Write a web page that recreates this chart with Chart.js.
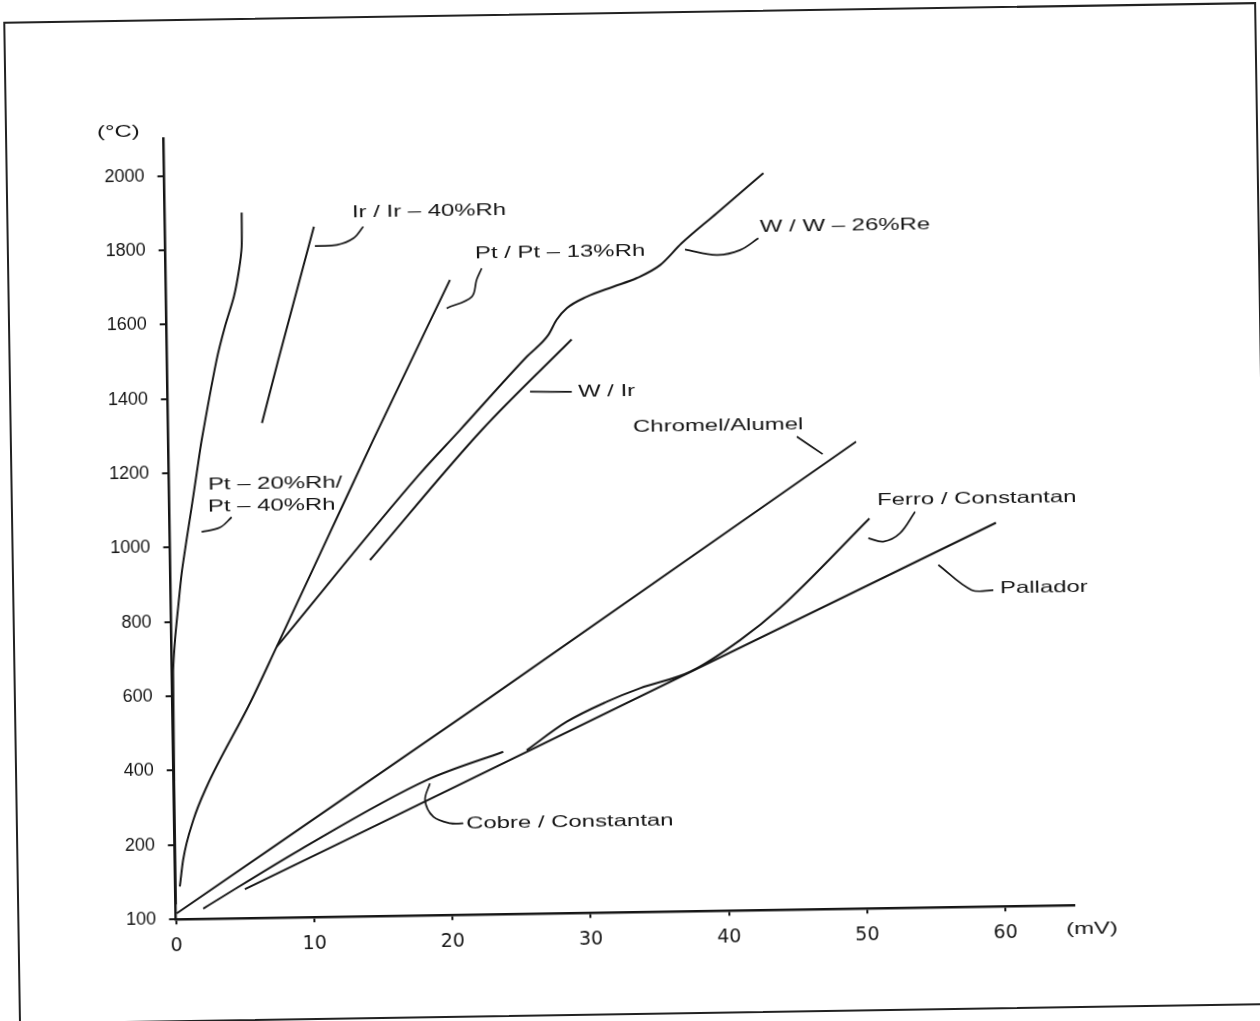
<!DOCTYPE html>
<html>
<head>
<meta charset="utf-8">
<script src="https://cdn.jsdelivr.net/npm/chart.js@4.4.1/dist/chart.umd.min.js"></script>
<style>
  html, body { margin: 0; padding: 0; background: #fff; overflow: hidden; }
  #page { position: relative; width: 1260px; height: 1021px; transform: rotate(-0.9deg); transform-origin: 630px 510px; }
  #frame { position: absolute; left: 11px; top: 12px; width: 1253px; height: 1003px; border: 2px solid #222; box-sizing: border-box; }
  canvas { position: absolute; left: 0; top: 0; }
</style>
</head>
<body>
<div id="page">
  <div id="frame"></div>
  <canvas id="chart" width="1260" height="1021"></canvas>
</div>
<script>
// axis ticks
const yTicks = [100, 200, 400, 600, 800, 1000, 1200, 1400, 1600, 1800, 2000];
const xTicks = [0, 10, 20, 30, 40, 50, 60];

// curves, [mV, °C]
const ptRh20 = [[0, 120], [0.07, 663], [0.24, 751], [0.51, 841], [0.80, 931], [1.19, 1020], [1.60, 1109],
  [2.0, 1199], [2.40, 1288], [3.57, 1503], [4.21, 1592], [4.89, 1672], [5.29, 1744], [5.51, 1806], [5.55, 1898]];
const irRh40 = [[6.78, 1331], [8.03, 1500], [10.76, 1857]];
const ptRh13 = [[0.31, 144], [0.58, 180], [1.36, 266], [2.36, 355], [5.59, 578],
  [7.59, 729], [11.32, 1014], [14.81, 1281], [20.54, 1708]];
const wRe26 = [[7.59, 729], [18.07, 1185], [21.1, 1304], [26.0, 1498], [27.6, 1556], [28.21, 1596], [28.96, 1627],
  [30.41, 1657], [32.35, 1683], [34.05, 1705], [35.76, 1739], [37.35, 1797], [39.91, 1876], [42.49, 1956], [43.34, 1982]];
const wIr = [[14.44, 958], [22.67, 1303], [29.28, 1543]];
const chromel = [[0.05, 108], [7.49, 200], [22.72, 577], [49.74, 1256]];
const cobre = [[1.98, 114], [9.04, 191], [18.29, 364], [23.86, 437]];
const pallador = [[5.01, 139], [12.03, 200], [59.77, 1032]];
const ferro = [[25.56, 440], [28.49, 515], [31.4, 567], [33.83, 602], [37.47, 644], [41.12, 727], [44.05, 812],
  [50.62, 1049]];

// leader strokes from labels to curves
const leadIr = [[10.81, 1805], [12.39, 1807], [13.6, 1824], [14.33, 1855]];
const leadPt13 = [[20.27, 1632], [22.1, 1662], [22.47, 1707], [22.85, 1738]];
const leadWRe = [[37.58, 1780], [39.87, 1764], [41.56, 1776], [42.9, 1807]];
const leadWIr = [[26.21, 1404], [29.23, 1402]];
const leadChromel = [[45.46, 1272], [47.31, 1224]];
const leadFerro = [[53.93, 1065], [52.82, 1008], [51.6, 986], [50.52, 996]];
const leadPallador = [[55.55, 921], [57.94, 852], [59.5, 851]];
const leadCobre = [[18.52, 355], [18.15, 310], [18.73, 265], [19.93, 247], [20.89, 246]];
const leadPt20 = [[4.48, 1079], [3.62, 1052], [2.29, 1041]];

// text labels, anchored at left / middle
const labels = [
  ["Ir / Ir – 40%Rh", 13.53, 1892],
  ["Pt / Pt – 13%Rh", 22.38, 1777],
  ["W / W – 26%Re", 43.03, 1835],
  ["W / Ir", 29.68, 1401],
  ["Chromel/Alumel", 33.62, 1305],
  ["Ferro / Constantan", 51.19, 1098],
  ["Pallador", 59.99, 854],
  ["Cobre / Constantan", 21.09, 244],
  ["Pt – 20%Rh/", 2.8, 1167],
  ["Pt – 40%Rh", 2.77, 1107],
  ["(°C)", -4.83, 2118],
  ["(mV)", 64.38, 67]
];

// equal spacing per tick: 100→200 takes one step, then 200 per step
class StepScale extends Chart.LinearScale {
  static id = "stepped";
  static defaults = Chart.LinearScale.defaults;
  buildTicks() { return yTicks.map(v => ({ value: v })); }
  toStep(v) { return v <= 200 ? (v - 100) / 100 : 1 + (v - 200) / 200; }
  getPixelForValue(v) {
    if (v === null || isNaN(v)) return NaN;
    return this.getPixelForDecimal(this.toStep(v) / this.toStep(this.max));
  }
  getValueForPixel(p) {
    const s = this.getDecimalForPixel(p) * this.toStep(this.max);
    return s <= 1 ? 100 + 100 * s : 200 + 200 * (s - 1);
  }
}
Chart.register(StepScale);

const INK = "#161616";

function curve(data, opts) {
  return Object.assign({
    data: data.map(p => ({ x: p[0], y: p[1] })),
    showLine: true,
    borderColor: INK,
    borderWidth: 2,
    pointRadius: 0,
    cubicInterpolationMode: "monotone"
  }, opts || {});
}

function straight(data) {
  return curve(data, { cubicInterpolationMode: "default", tension: 0 });
}

function leader(data) {
  return curve(data, { borderWidth: 1.7, cubicInterpolationMode: "default", tension: 0.35 });
}

const labelPlugin = {
  id: "labels",
  afterDraw(chart) {
    const ctx = chart.ctx;
    const xs = chart.scales.x, ys = chart.scales.y;
    ctx.save();
    ctx.fillStyle = INK;
    ctx.font = '16.5px "Liberation Sans"';
    ctx.textBaseline = "middle";
    ctx.textAlign = "left";
    labels.forEach(([text, x, y]) => {
      ctx.save();
      ctx.translate(xs.getPixelForValue(x), ys.getPixelForValue(y));
      ctx.scale(1.45, 1);
      ctx.fillText(text, 0, 0);
      ctx.restore();
    });
    ctx.restore();
  }
};

new Chart(document.getElementById("chart"), {
  type: "scatter",
  data: {
    datasets: [
      curve(ptRh20, { cubicInterpolationMode: "default", tension: 0.25 }),
      straight(irRh40),
      curve(ptRh13),
      curve(wRe26),
      curve(wIr),
      straight(chromel),
      curve(cobre),
      straight(pallador),
      curve(ferro),
      leader(leadIr), leader(leadPt13), leader(leadWRe), leader(leadWIr), leader(leadChromel),
      leader(leadFerro), leader(leadPallador), leader(leadCobre), leader(leadPt20)
    ]
  },
  options: {
    responsive: false,
    animation: false,
    events: [],
    layout: { padding: { left: 0, top: 131.4, right: 192, bottom: 48.8 } },
    plugins: { legend: { display: false }, tooltip: { enabled: false } },
    scales: {
      x: {
        type: "linear",
        min: 0,
        max: 65,
        afterBuildTicks: s => { s.ticks = xTicks.map(v => ({ value: v })); },
        afterFit: s => { s.height = 60; },
        grid: { drawOnChartArea: false, color: INK, tickLength: 5, lineWidth: 2 },
        border: { color: INK, width: 2.5 },
        ticks: { color: INK, font: { family: "DejaVu Sans", size: 19 }, padding: 10, maxRotation: 0, autoSkip: false,
          callback: v => String(v) }
      },
      y: {
        type: "stepped",
        min: 100,
        max: 2100,
        afterFit: s => { s.width = 169.7; },
        grid: { drawOnChartArea: false, color: INK, tickLength: 7, lineWidth: 2 },
        border: { color: INK, width: 2.5 },
        ticks: { color: INK, font: { family: "Liberation Sans", size: 18 }, padding: 13, autoSkip: false,
          callback: v => String(v) }
      }
    }
  },
  plugins: [labelPlugin]
});
</script>
</body>
</html>
